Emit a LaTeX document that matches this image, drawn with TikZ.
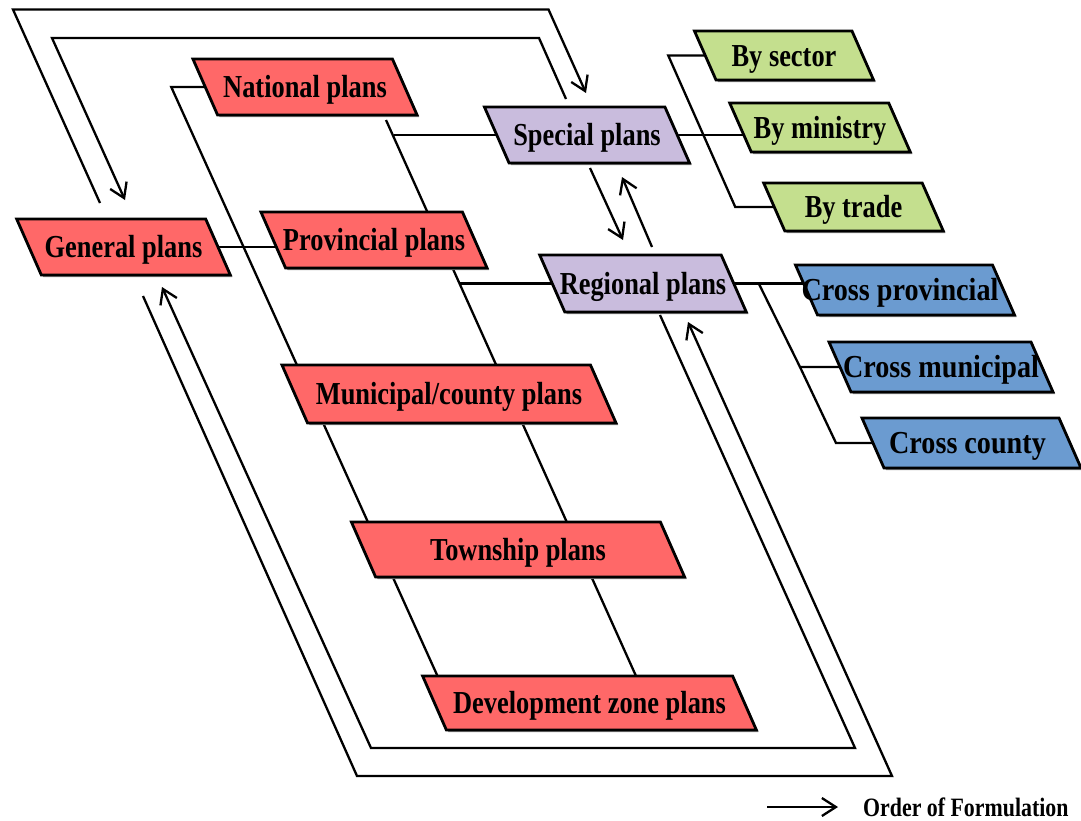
\documentclass[tikz,border=0pt]{standalone}
\usepackage{fontspec}
\setmainfont{Liberation Serif}[FakeStretch=0.825]
\newfontfamily\widefont{Liberation Serif}[FakeStretch=0.88]
\usetikzlibrary{arrows.meta,calc}

\pgfdeclarelayer{wires}
\pgfdeclarelayer{boxes}
\pgfsetlayers{wires,boxes,main}

\definecolor{planred}{HTML}{FF6868}
\definecolor{planlilac}{HTML}{C9BCDD}
\definecolor{plangreen}{HTML}{C4DF8E}
\definecolor{planblue}{HTML}{6B9BD0}

\tikzset{
  planlabel/.style={rectangle, inner sep=0pt, outer sep=0pt,
    text height=21pt, text depth=0pt,
    font=\bfseries\fontsize{32}{36}\selectfont},
  legendtext/.style={inner sep=0pt, font=\bfseries\fontsize{26.5}{30}\selectfont},
  boxedge/.style={draw=black, line width=2.8pt, line join=miter},
  boxshade/.style={fill=black!45},
  wire/.style={draw=black, line width=2.3pt},
  flow/.style={wire, -{Straight Barb[length=14pt,width=18pt]}},
}

% slanted plan box: name, x, y, mid width, height, fill, text
\newcommand\planbox[7]{%
  \node[planlabel, minimum width=#4, minimum height=#5] (#1) at (#2,#3) {\makebox[0pt]{#7}};
  \begin{pgfonlayer}{boxes}
    \path[boxshade]
      ([xshift={-0.22*#5+2}, yshift=-2]#1.north west) --
      ([xshift={-0.22*#5+2}, yshift=-2]#1.north east) --
      ([xshift={0.22*#5+2}, yshift=-2]#1.south east) --
      ([xshift={0.22*#5+2}, yshift=-2]#1.south west) -- cycle;
    \path[boxedge, fill=#6]
      ([xshift={-0.22*#5}]#1.north west) --
      ([xshift={-0.22*#5}]#1.north east) --
      ([xshift={0.22*#5}]#1.south east) --
      ([xshift={0.22*#5}]#1.south west) -- cycle;
  \end{pgfonlayer}%
}

\begin{document}
\begin{tikzpicture}[x=1pt, y=-1pt]
\begin{pgfonlayer}{wires}
  \fill[white] (0,0) rectangle (1081,820);
\end{pgfonlayer}
\useasboundingbox (0,0) rectangle (1081,820);

% general and administrative-level plans
\planbox{nat}{305}{87}{199.5}{56}{planred}{National plans}
\planbox{gen}{123.5}{247}{189}{56}{planred}{General plans}
\planbox{prov}{374}{240}{201.5}{56}{planred}{Provincial plans}
\planbox{muni}{449}{394}{308.5}{58}{planred}{Municipal/county plans}
\planbox{town}{518}{549.5}{309}{55}{planred}{Township plans}
\planbox{dev}{589.5}{703}{310}{54}{planred}{Development zone plans}

% special and regional plans
\planbox{spec}{587}{135}{180.5}{56}{planlilac}{Special plans}
\planbox{reg}{643}{283.5}{181.5}{57}{planlilac}{Regional plans}

% subdivisions
\planbox{sec}{784}{55.5}{157.5}{49}{plangreen}{By sector}
\planbox{mini}{820}{127.5}{159}{49}{plangreen}{By ministry}
\planbox{trade}{853.5}{207}{158.5}{48}{plangreen}{By trade}
\planbox{cprov}{905}{290}{197}{50}{planblue}{\widefont\hspace*{-10pt}Cross provincial}
\planbox{cmuni}{941}{367}{202}{50}{planblue}{\widefont Cross municipal}
\planbox{ccty}{971.5}{443}{197}{50}{planblue}{\widefont\hspace*{-8pt}Cross county}

\begin{pgfonlayer}{wires}
  % the two level chains run behind the boxes
  \draw[wire] ([xshift=6]nat.west) -- ++(-40,0) -- ([xshift=-152]dev.north);
  \draw[wire] ([xshift=81,yshift=-5]nat.south) -- ([xshift=46.5]dev.north);
  % horizontal links
  \draw[wire] ([xshift=-4]gen.east) -- ([xshift=8]gen.east -| prov.west);
  \draw[wire] ([xshift=8]spec.west) -- ++(-111,0);
  \draw[wire] ([xshift=8]reg.west) -- ++(-101,0);
  \draw[wire] ([xshift=-8]spec.east) -- ([xshift=8]spec.east -| mini.west);
  \draw[wire] ([xshift=8]sec.west) -- ++(-45,0) -- ([xshift=-39]trade.west) -- ([xshift=8]trade.west);
  \draw[wire] ([xshift=-8]reg.east) -- ([xshift=8]reg.east -| cprov.west);
  \draw[wire] ([xshift=25]reg.east) -- ([xshift=-40]cmuni.west) -- ([xshift=8]cmuni.west);
  \draw[wire] ([xshift=-40]cmuni.west) -- ([xshift=-37]ccty.west) -- ([xshift=8]ccty.west);
\end{pgfonlayer}

% order of formulation loops
\draw[flow] ([xshift=-23.5,yshift=16]gen.north) -- (13,9.5) -- (548.5,9.5) -- ([xshift=-1,yshift=14]spec.north);
\draw[flow] ([xshift=-21,yshift=8]spec.north) -- (539,38) -- (52,38) -- ([xshift=1.5,yshift=19]gen.north);
\draw[flow] ([xshift=19.5,yshift=-21]gen.south) -- (357,776) -- (892,776) -- ([xshift=45,yshift=-10]reg.south);
\draw[flow] ([xshift=17,yshift=-3]reg.south) -- (855,748) -- (371,748) -- ([xshift=38.5,yshift=-12]gen.south);
\draw[flow] ([xshift=3,yshift=-5]spec.south) -- ([xshift=-20,yshift=15]reg.north);
\draw[flow] ([xshift=9,yshift=8]reg.north) -- ([xshift=35,yshift=-14]spec.south);

% legend
\node[legendtext, anchor=west] (legend) at (863,807) {Order of Formulation};
\draw[flow] ([xshift=-96]legend.west) -- ([xshift=-25]legend.west);
\end{tikzpicture}
\end{document}
